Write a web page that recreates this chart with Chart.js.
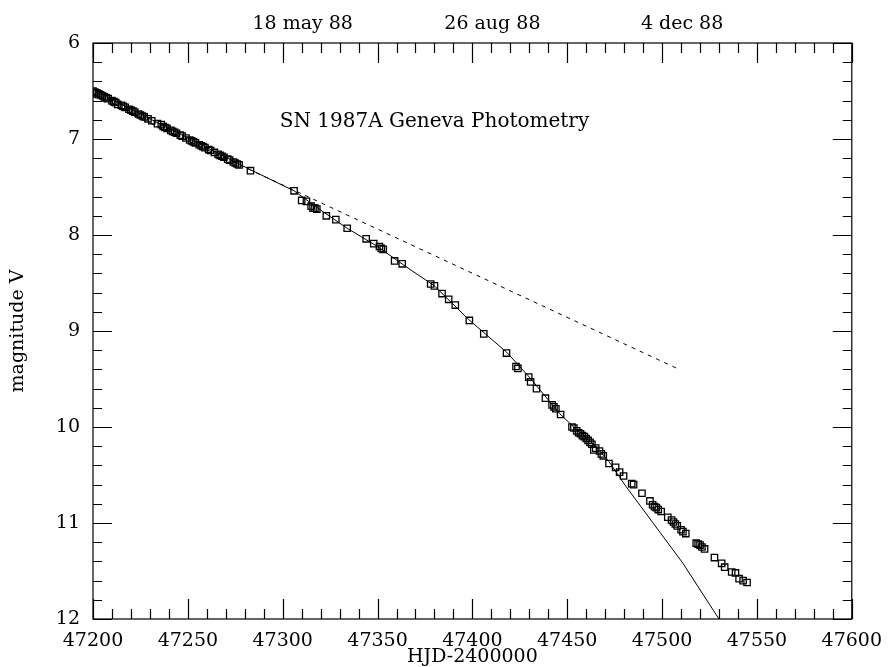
<!DOCTYPE html>
<html>
<head>
<meta charset="utf-8">
<title>SN 1987A Geneva Photometry</title>
<script src="https://cdn.jsdelivr.net/npm/chart.js@4"></script>
<style>
  html, body { margin: 0; padding: 0; background: #fff; }
  canvas { display: block; }
</style>
</head>
<body>
<canvas id="lc" width="893" height="667"></canvas>
<script>
// observed V magnitudes, [HJD-2400000, mag]
const obsDays = [
  47200, 47201, 47202, 47203, 47204, 47205, 47206, 47207, 47208, 47210, 47211, 47212, 47213,
  47215, 47216, 47217, 47219, 47220, 47221, 47222, 47224, 47225, 47226, 47227, 47229, 47231,
  47234, 47236, 47237, 47238, 47239, 47241, 47242, 47243, 47244, 47246, 47247, 47249,
  47251, 47252, 47253, 47254, 47256, 47257, 47258, 47259, 47261, 47262, 47264, 47266,
  47267, 47268, 47269, 47271, 47272, 47274, 47275, 47276, 47277, 47283,
  47306, 47310, 47312.5, 47315, 47316, 47317, 47318, 47323, 47328, 47334,
  47344, 47348, 47351, 47352, 47353, 47359, 47363, 47378, 47380, 47384,
  47387.5, 47391, 47398.4, 47406, 47418, 47423, 47424, 47429.7, 47430.7, 47433.8,
  47438.5, 47442, 47443, 47444, 47446.5, 47452.5, 47453.5, 47455, 47456, 47457,
  47458, 47459, 47460, 47461, 47462, 47463, 47464, 47465, 47467, 47468,
  47469, 47472, 47475.5, 47477.6, 47479.7, 47484, 47485, 47489.4, 47493.6, 47495,
  47496, 47497, 47498, 47499.5, 47503, 47505, 47506, 47507, 47508, 47510,
  47511, 47512.5, 47518, 47519, 47520, 47521, 47522.4, 47527.6, 47531.4, 47533,
  47536.7, 47538.7, 47540.6, 47542.7, 47544.8
];
const obsMag = [
  6.50, 6.51, 6.52, 6.53, 6.54, 6.55, 6.56, 6.57, 6.58, 6.60, 6.61, 6.62, 6.64,
  6.65, 6.66, 6.67, 6.69, 6.70, 6.71, 6.72, 6.74, 6.75, 6.76, 6.77, 6.79, 6.81,
  6.84, 6.85, 6.87, 6.88, 6.89, 6.91, 6.92, 6.93, 6.94, 6.96, 6.97, 6.99,
  7.01, 7.02, 7.03, 7.04, 7.06, 7.07, 7.08, 7.09, 7.11, 7.12, 7.14, 7.16,
  7.17, 7.18, 7.19, 7.21, 7.22, 7.24, 7.25, 7.26, 7.27, 7.33,
  7.54, 7.64, 7.65, 7.70, 7.72, 7.72, 7.73, 7.80, 7.84, 7.93,
  8.04, 8.09, 8.12, 8.14, 8.15, 8.27, 8.30, 8.51, 8.53, 8.61,
  8.67, 8.73, 8.89, 9.03, 9.23, 9.37, 9.39, 9.48, 9.53, 9.60,
  9.70, 9.77, 9.79, 9.81, 9.87, 10.00, 10.01, 10.04, 10.06, 10.07,
  10.09, 10.10, 10.12, 10.14, 10.16, 10.18, 10.24, 10.22, 10.25, 10.28,
  10.30, 10.38, 10.42, 10.47, 10.51, 10.59, 10.60, 10.69, 10.77, 10.81,
  10.83, 10.84, 10.86, 10.88, 10.94, 10.97, 10.99, 11.01, 11.03, 11.07,
  11.09, 11.11, 11.21, 11.22, 11.23, 11.25, 11.27, 11.36, 11.42, 11.46,
  11.51, 11.52, 11.58, 11.60, 11.62
];

// solid model curve
const modelDays = [47200, 47240, 47283, 47306, 47320, 47334, 47350, 47365, 47380, 47398,
                   47418, 47430, 47446, 47455, 47465, 47472, 47481, 47499, 47511, 47530];
const modelMag  = [6.49, 6.89, 7.32, 7.54, 7.74, 7.93, 8.12, 8.33, 8.53, 8.88,
                   9.22, 9.48, 9.86, 10.03, 10.20, 10.36, 10.62, 11.10, 11.42, 12.0];

// dashed straight decline
const decayDays = [47200, 47509];
const decayMag  = [6.56, 9.40];

// top axis date labels
const dateTicks  = [47300, 47400, 47500];
const dateLabels = ['18 may 88', '26 aug 88', '4 dec 88'];

const FONT = 'DejaVu Serif';
const pairs = (xs, ys) => xs.map((x, i) => ({ x: x, y: ys[i] }));

const framePlugin = {
  id: 'frame',
  afterDraw(chart) {
    const { ctx, chartArea: a, scales } = chart;
    const x = scales.x, y = scales.y;
    ctx.save();
    ctx.strokeStyle = '#000';
    ctx.lineWidth = 1.2;
    ctx.strokeRect(a.left, a.top, a.right - a.left, a.bottom - a.top);
    ctx.beginPath();
    for (let d = 47200; d <= 47600; d += 10) {
      const px = Math.round(x.getPixelForValue(d)) + 0.5;
      const len = d % 50 === 0 ? 20 : 10;
      ctx.moveTo(px, a.bottom); ctx.lineTo(px, a.bottom - len);
      ctx.moveTo(px, a.top); ctx.lineTo(px, a.top + len);
    }
    for (let k = 0; k <= 30; k++) {
      const m = 6 + k * 0.2;
      const py = Math.round(y.getPixelForValue(m)) + 0.5;
      const len = k % 5 === 0 ? 19 : 9;
      ctx.moveTo(a.left, py); ctx.lineTo(a.left + len, py);
      ctx.moveTo(a.right, py); ctx.lineTo(a.right - len, py);
    }
    ctx.stroke();
    // title inside the plot
    ctx.fillStyle = '#000';
    ctx.font = '20px "' + FONT + '"';
    ctx.textAlign = 'center';
    ctx.textBaseline = 'middle';
    ctx.fillText('SN 1987A Geneva Photometry', x.getPixelForValue(47380), y.getPixelForValue(6.82));
    ctx.restore();
  }
};

new Chart(document.getElementById('lc'), {
  type: 'scatter',
  data: {
    datasets: [
      {
        label: 'V',
        data: pairs(obsDays, obsMag),
        pointStyle: 'rect',
        pointRadius: 4.5,
        borderColor: '#000',
        borderWidth: 1.3,
        backgroundColor: 'rgba(0,0,0,0)'
      },
      {
        label: 'model',
        data: pairs(modelDays, modelMag),
        showLine: true,
        pointRadius: 0,
        borderColor: '#000',
        borderWidth: 1,
        tension: 0
      },
      {
        label: 'decay',
        data: pairs(decayDays, decayMag),
        showLine: true,
        pointRadius: 0,
        borderColor: '#000',
        borderWidth: 1,
        borderDash: [4, 5]
      }
    ]
  },
  options: {
    responsive: false,
    animation: false,
    layout: { padding: { right: 32, left: 0, top: 0, bottom: 0 } },
    plugins: { legend: { display: false }, tooltip: { enabled: false } },
    scales: {
      x: {
        type: 'linear', position: 'bottom', min: 47200, max: 47600,
        grid: { display: false, drawTicks: false },
        border: { display: false },
        ticks: { stepSize: 50, padding: 11, color: '#000', font: { family: FONT, size: 19 },
                 callback: v => String(v) },
        title: { display: true, text: 'HJD-2400000', color: '#000', padding: { top: 0, bottom: -1 },
                 font: { family: FONT, size: 19 } },
        afterFit(s) { s.height = 48; }
      },
      xTop: {
        type: 'linear', position: 'top', min: 47200, max: 47600,
        grid: { display: false, drawTicks: false },
        border: { display: false },
        afterBuildTicks(s) { s.ticks = dateTicks.map(v => ({ value: v })); },
        ticks: {
          padding: 8, labelOffset: 20, color: '#000', font: { family: FONT, size: 19 },
          callback: v => dateLabels[dateTicks.indexOf(v)]
        },
        afterFit(s) { s.height = 43; }
      },
      y: {
        type: 'linear', position: 'left', min: 6, max: 12, reverse: true,
        grid: { display: false, drawTicks: false },
        border: { display: false },
        ticks: { stepSize: 1, padding: 13, color: '#000', font: { family: FONT, size: 19 } },
        title: { display: true, text: 'magnitude V', color: '#000', padding: 7,
                 font: { family: FONT, size: 19 } },
        afterFit(s) { s.width = 93; }
      }
    }
  },
  plugins: [framePlugin]
});
</script>
</body>
</html>
